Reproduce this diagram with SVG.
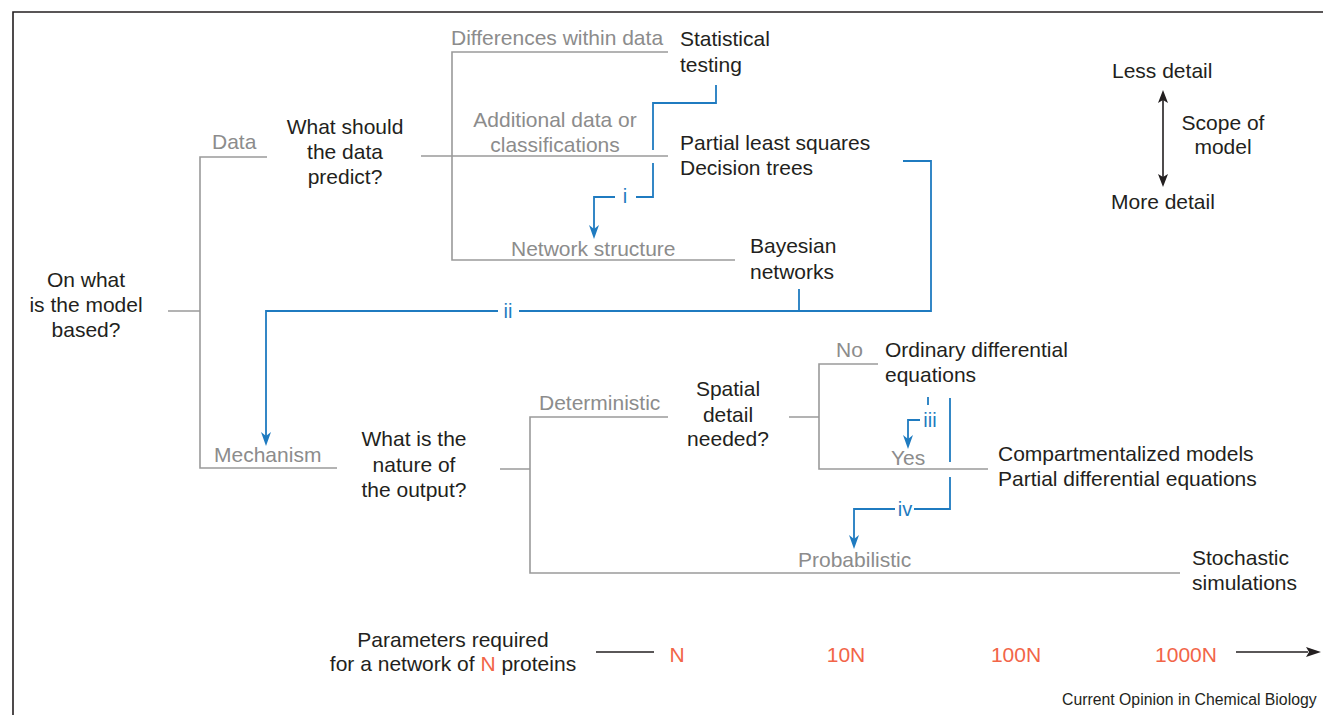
<svg xmlns="http://www.w3.org/2000/svg" width="1323" height="715" viewBox="0 0 1323 715">
<defs>
<style>
text{font-family:"Liberation Sans",Arial,Helvetica,sans-serif;font-size:21px;fill:#231f20}
.g{fill:#8c8c8c}
.b{fill:#1f7bc0;font-size:20px}
.r{fill:#f26548}
.m{text-anchor:middle}
.gl{stroke:#9a9a9a;stroke-width:1.6;fill:none}
.bl{stroke:#1f7bc0;stroke-width:1.8;fill:none}
.kl{stroke:#231f20;stroke-width:1.6;fill:none}
.ah{fill:#1f7bc0}
</style>
</defs>
<rect width="1323" height="715" fill="#fff"/>
<path class="kl" d="M13,715 V12 H1323" stroke="#444"/>

<g id="connectors">
<path class="gl" d="M168,311 H200 M267,157 H200 V468 H337"/>
<path class="gl" d="M421,156 H668 M668,52 H452 V260 H735"/>
<path class="gl" d="M500,469 H530 M668,417 H530 V573 H1180"/>
<path class="gl" d="M789,417 H819 M878,364 H819 V469 H988"/>
<path class="bl" d="M716,85 V103 H653 V150"/>
<path class="bl" d="M653,163 V197 H636"/>
<path class="bl" d="M615,197 H594 V232"/>
<path class="bl" d="M903,161 H931 V311 H519"/>
<path class="bl" d="M799,289 V311"/>
<path class="bl" d="M498,311 H266 V439"/>
<path class="bl" d="M928,397 V405"/>
<path class="bl" d="M920,420 H908 V442"/>
<path class="bl" d="M950,398 V462"/>
<path class="bl" d="M950,477 V509 H914"/>
<path class="bl" d="M895,509 H854 V542"/>
<path class="ah" d="M589,225 L594,229 L599,225 L594,239 Z"/>
<path class="ah" d="M261,432 L266,436 L271,432 L266,446 Z"/>
<path class="ah" d="M903,435 L908,439 L913,435 L908,449 Z"/>
<path class="ah" d="M849,535 L854,539 L859,535 L854,549 Z"/>
<path class="kl" d="M1163,93 V184"/>
<path fill="#231f20" d="M1163,90 L1168,103 L1163,100 L1158,103 Z M1163,187 L1168,174 L1163,177 L1158,174 Z"/>
<path class="kl" d="M596,652 H654"/>
<path class="kl" d="M1236,652 H1308"/>
<path fill="#231f20" d="M1321,652 L1306,647 L1309,652 L1306,657 Z"/>
</g>

<g id="root"><text class="m" x="86" y="287">On what</text><text class="m" x="86" y="312">is the model</text><text class="m" x="86" y="337">based?</text></g>
<g id="data"><text class="g" x="212" y="149">Data</text></g>
<g id="mechanism"><text class="g" x="214" y="462">Mechanism</text></g>
<g id="q-data"><text class="m" x="345" y="134">What should</text><text class="m" x="345" y="159">the data</text><text class="m" x="345" y="184">predict?</text></g>
<g id="differences"><text class="g" x="451" y="45">Differences within data</text></g>
<g id="statistical"><text x="680" y="46">Statistical</text><text x="680" y="72">testing</text></g>
<g id="additional"><text class="g m" x="555" y="127">Additional data or</text><text class="g m" x="555" y="152">classifications</text></g>
<g id="pls"><text x="680" y="150">Partial least squares</text><text x="680" y="175">Decision trees</text></g>
<g id="network"><text class="g" x="511" y="256">Network structure</text></g>
<g id="bayesian"><text x="750" y="253">Bayesian</text><text x="750" y="279">networks</text></g>
<g id="label-i"><text class="b m" x="625" y="203">i</text></g>
<g id="label-ii"><text class="b m" x="508" y="318">ii</text></g>
<g id="q-output"><text class="m" x="414" y="446">What is the</text><text class="m" x="414" y="472">nature of</text><text class="m" x="414" y="497">the output?</text></g>
<g id="deterministic"><text class="g" x="539" y="410">Deterministic</text></g>
<g id="q-spatial"><text class="m" x="728" y="396">Spatial</text><text class="m" x="728" y="422">detail</text><text class="m" x="728" y="446">needed?</text></g>
<g id="no"><text class="g" x="836" y="357">No</text></g>
<g id="ode"><text x="885" y="357">Ordinary differential</text><text x="885" y="382">equations</text></g>
<g id="yes"><text class="g" x="891" y="465">Yes</text></g>
<g id="label-iii"><text class="b m" x="930" y="427">iii</text></g>
<g id="compart"><text x="998" y="461">Compartmentalized models</text><text x="998" y="486">Partial differential equations</text></g>
<g id="label-iv"><text class="b m" x="905" y="516">iv</text></g>
<g id="probabilistic"><text class="g" x="798" y="567">Probabilistic</text></g>
<g id="stochastic"><text x="1192" y="565">Stochastic</text><text x="1192" y="590">simulations</text></g>
<g id="scope"><text x="1112" y="78">Less detail</text><text class="m" x="1223" y="130">Scope of</text><text class="m" x="1223" y="154">model</text><text x="1111" y="209">More detail</text></g>
<g id="params"><text class="m" x="453" y="647">Parameters required</text><text class="m" x="453" y="671">for a network of <tspan class="r">N</tspan> proteins</text></g>
<g id="scale"><text class="r m" x="677" y="662">N</text><text class="r m" x="846" y="662">10N</text><text class="r m" x="1016" y="662">100N</text><text class="r m" x="1186" y="662">1000N</text></g>
<g id="credit"><text x="1062" y="705" style="font-size:15.8px">Current Opinion in Chemical Biology</text></g>
</svg>
